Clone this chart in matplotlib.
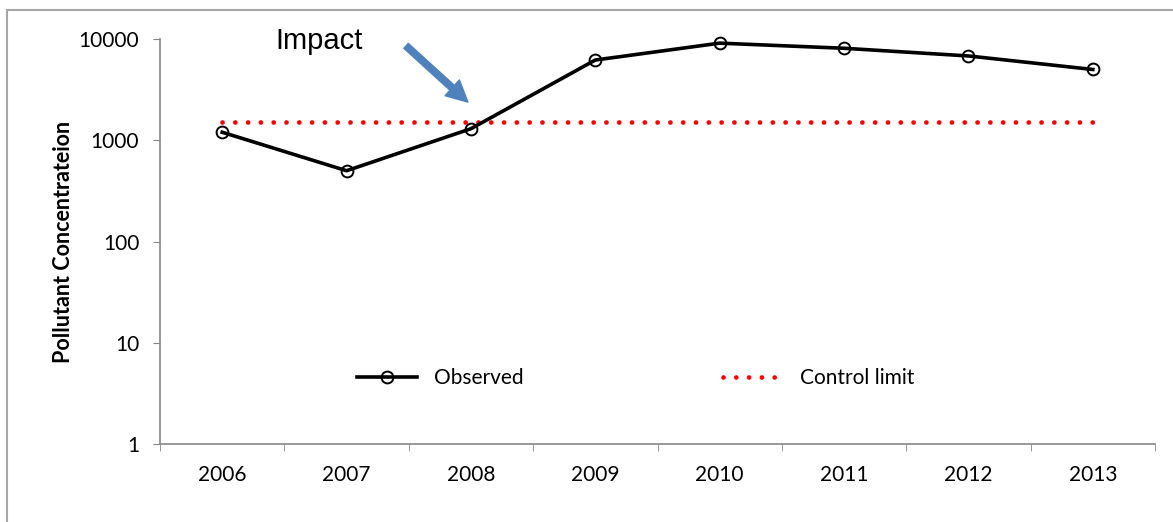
import matplotlib.pyplot as plt
from matplotlib.patches import Rectangle

years = ["2006", "2007", "2008", "2009", "2010", "2011", "2012", "2013"]
observed = [1200, 500, 1300, 6200, 9100, 8100, 6800, 5000]
control_limit = [1500] * len(years)
y_ticks = [1, 10, 100, 1000, 10000]

W, H = 1173, 522
fig = plt.figure(figsize=(W / 100, H / 100), dpi=100)
ax = fig.add_axes([160 / W, 78 / H, 995 / W, 405 / H])

# chart-area border (runs off the right and bottom edges)
fig.patches.append(Rectangle((7 / W, -0.05), 1.1, (H - 10) / H + 0.05,
                             transform=fig.transFigure, fill=False,
                             edgecolor="#a6a6a6", linewidth=1.5))

x = range(len(years))
ax.plot(x, observed, color="black", linewidth=2.6, marker="o",
        markersize=8.5, markerfacecolor="none", markeredgewidth=1.4,
        label="Observed", zorder=3, clip_on=False)
ax.plot(x, control_limit, color="#ff0000", linewidth=3.4,
        linestyle=(0, (0.01, 2.7)), dash_capstyle="round",
        label="Control limit", zorder=2)

ax.set_yscale("log")
ax.set_ylim(1, 10000)
ax.set_yticks(y_ticks)
ax.set_yticklabels([str(v) for v in y_ticks])
ax.minorticks_off()
ax.set_xlim(-0.5, len(years) - 0.5)

# category ticks sit between years
ax.set_xticks([i - 0.5 for i in range(len(years) + 1)], minor=True)
ax.set_xticks(list(x))
ax.set_xticklabels(years)
ax.tick_params(axis="x", which="major", length=0, pad=15)
ax.tick_params(axis="x", which="minor", length=5, color="#868686")
ax.tick_params(axis="y", length=5, color="#868686", pad=10)
ax.tick_params(labelsize=15)
for lab in ax.get_xticklabels() + ax.get_yticklabels():
    lab.set_family("Lato")

for s in ("top", "right"):
    ax.spines[s].set_visible(False)
for s in ("left", "bottom"):
    ax.spines[s].set_color("#868686")
    ax.spines[s].set_linewidth(1.2)

ax.set_ylabel("Pollutant Concentrateion", fontsize=15.5, fontweight="bold",
              family="Lato", labelpad=3)

ax.legend(loc="center", bbox_to_anchor=(0.478, 0.163), ncol=2, frameon=False,
          columnspacing=9.6, handlelength=2.9, handletextpad=0.8,
          prop={"family": "Lato", "size": 15})

ax.annotate("", xy=(470, H - 104), xytext=(404, H - 44),
            xycoords="figure pixels", textcoords="figure pixels",
            arrowprops=dict(arrowstyle="simple,head_length=0.9,head_width=0.9,tail_width=0.28",
                            color="#4f81bd", mutation_scale=17))
fig.text(275 / W, 1 - 41 / H, "Impact", fontsize=21, family="Liberation Sans",
         va="center", ha="left")

fig.savefig("out.png", dpi=100)
